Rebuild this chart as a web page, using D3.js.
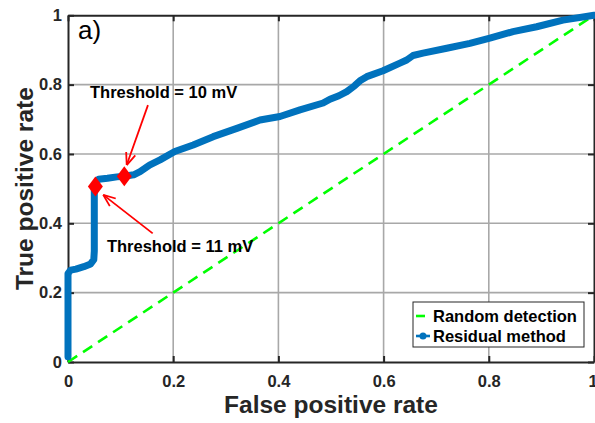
<!DOCTYPE html>
<html><head><meta charset="utf-8">
<script src="https://cdn.jsdelivr.net/npm/d3@7"></script>
<style>body{margin:0;background:#fff}svg{display:block}text{font-family:"Liberation Sans",Arial,Helvetica,sans-serif}</style>
</head><body>
<svg id="c" width="595" height="423"></svg>
<script>
// ---- data ----
const fpr = [0,0,0,0,0.005,0.015,0.03,0.043,0.049,0.05,0.05,0.05,0.052,0.058,0.075,0.093,0.107,0.125,0.137,0.155,0.175,0.203,0.238,0.276,0.321,0.365,0.403,0.441,0.485,0.498,0.515,0.53,0.545,0.555,0.568,0.599,0.631,0.644,0.656,0.675,0.72,0.764,0.802,0.846,0.891,0.941,1.0];
const tpr = [0.015,0.1,0.2,0.255,0.265,0.268,0.275,0.283,0.295,0.32,0.4,0.5,0.515,0.527,0.53,0.534,0.536,0.54,0.549,0.568,0.583,0.607,0.626,0.65,0.674,0.698,0.708,0.727,0.747,0.758,0.768,0.78,0.797,0.811,0.823,0.84,0.862,0.871,0.884,0.891,0.905,0.919,0.934,0.953,0.967,0.986,1.0];
const randomX = [0, 1];
const randomY = [0, 1];
const thresholdLabels = ["Threshold = 10 mV", "Threshold = 11 mV"];
const thresholdX = [0.107, 0.052];
const thresholdY = [0.536, 0.506];
const ticks = [0, 0.2, 0.4, 0.6, 0.8, 1];
const tickLabels = ["0", "0.2", "0.4", "0.6", "0.8", "1"];
const legendLabels = ["Random detection", "Residual method"];

// ---- layout ----
const svg = d3.select("#c");
const L = 68, R = 594, T = 15.3, B = 362;
const x = d3.scaleLinear().domain([0,1]).range([L,R]);
const y = d3.scaleLinear().domain([0,1]).range([B,T]);
const blue = "#0072bd", green = "#00ff00", red = "#ff0000", dark = "#262626";

// grid
const g = svg.append("g");
g.selectAll("line.gx").data(ticks.slice(1,-1)).enter().append("line")
  .attr("x1", d=>x(d)).attr("x2", d=>x(d)).attr("y1", T).attr("y2", B)
  .attr("stroke", "#a8a8a8").attr("stroke-width", 1.6);
g.selectAll("line.gy").data(ticks.slice(1,-1)).enter().append("line")
  .attr("y1", d=>y(d)).attr("y2", d=>y(d)).attr("x1", L).attr("x2", R)
  .attr("stroke", "#a8a8a8").attr("stroke-width", 1.6);

// axes
const fs = "16.5px";
const xAxis = d3.axisBottom(x).tickValues(ticks).tickFormat((d,i)=>tickLabels[i]).tickSizeInner(-6).tickSizeOuter(0).tickPadding(13);
const yAxis = d3.axisLeft(y).tickValues(ticks).tickFormat((d,i)=>tickLabels[i]).tickSizeInner(-6).tickSizeOuter(0).tickPadding(6);
const xTop = d3.axisTop(x).tickValues(ticks).tickFormat("").tickSizeInner(-6).tickSizeOuter(0);
const yRight = d3.axisRight(y).tickValues(ticks).tickFormat("").tickSizeInner(-6).tickSizeOuter(0);
function style(sel){
  sel.select(".domain").attr("stroke", dark).attr("stroke-width", 2);
  sel.selectAll(".tick line").attr("stroke", dark).attr("stroke-width", 2);
  sel.selectAll(".tick text").attr("fill", dark).style("font-size", fs).style("font-weight", "bold").style("font-family", '"Liberation Sans",Arial,sans-serif');
}
const xa = svg.append("g").attr("transform", `translate(0,${B})`).call(xAxis).call(style);
xa.selectAll(".tick text").filter((d,i)=>i===ticks.length-1).attr("dx", -1.5);
svg.append("g").attr("transform", `translate(${L},0)`).call(yAxis).call(style);
svg.append("g").attr("transform", `translate(0,${T})`).call(xTop).call(style);
svg.append("g").attr("transform", `translate(${R},0)`).call(yRight).call(style);

// random line
const line = d3.line().x(d=>x(d[0])).y(d=>y(d[1]));
svg.append("path").datum(d3.zip(randomX, randomY)).attr("d", line)
  .attr("fill","none").attr("stroke", green).attr("stroke-width", 2.6).attr("stroke-dasharray", "11,7");

// ROC curve
svg.append("path").datum(d3.zip(fpr, tpr)).attr("d", line)
  .attr("fill","none").attr("stroke", blue).attr("stroke-width", 7)
  .attr("stroke-linejoin","round").attr("stroke-linecap","round");

// diamonds
svg.selectAll("path.dia").data(d3.zip(thresholdX, thresholdY)).enter().append("path")
  .attr("d", d=>{const cx=x(d[0]), cy=y(d[1]); return `M${cx},${cy-10}L${cx+7.5},${cy}L${cx},${cy+10}L${cx-7.5},${cy}Z`;})
  .attr("fill", red);

// annotations (arrow tail/tip in data coords)
const arrows = [
  {from:[0.152,0.741], to:[0.1116,0.568]},
  {from:[0.161,0.371], to:[0.067,0.482]}
];
arrows.forEach(a=>{
  const x1=x(a.from[0]), y1=y(a.from[1]), x2=x(a.to[0]), y2=y(a.to[1]);
  svg.append("line").attr("x1",x1).attr("y1",y1).attr("x2",x2).attr("y2",y2)
    .attr("stroke", red).attr("stroke-width", 1.8);
  const ang = Math.atan2(y1-y2, x1-x2), len=13, sp=0.38;
  [ang-sp, ang+sp].forEach(t=>{
    svg.append("line").attr("x1",x2).attr("y1",y2)
      .attr("x2",x2+len*Math.cos(t)).attr("y2",y2+len*Math.sin(t))
      .attr("stroke", red).attr("stroke-width", 1.8);
  });
});
svg.append("text").attr("x", x(0.0418)).attr("y", y(0.762)).text(thresholdLabels[0])
  .style("font-size", fs).style("font-weight","bold").attr("fill","#000");
svg.append("text").attr("x", x(0.074)).attr("y", y(0.318)).text(thresholdLabels[1])
  .style("font-size", fs).style("font-weight","bold").attr("fill","#000");

// panel label
svg.append("text").attr("x", 78).attr("y", 39).text("a)").style("font-size","26px").attr("fill","#000");

// axis titles
svg.append("text").attr("x", (L+R)/2).attr("y", 413).attr("text-anchor","middle")
  .text("False positive rate").style("font-size","24.5px").style("font-weight","bold").attr("fill", dark);
svg.append("text").attr("transform", `translate(33,${(T+B)/2}) rotate(-90)`).attr("text-anchor","middle")
  .text("True positive rate").style("font-size","24.5px").style("font-weight","bold").attr("fill", dark);

// legend
const lg = svg.append("g");
lg.append("rect").attr("x", 413).attr("y", 302).attr("width", 171).attr("height", 45)
  .attr("fill","#fff").attr("stroke", dark).attr("stroke-width", 1);
lg.append("line").attr("x1", 416).attr("x2", 425).attr("y1", 316).attr("y2", 316).attr("stroke", green).attr("stroke-width", 2.6);
lg.append("line").attr("x1", 416).attr("x2", 430).attr("y1", 336).attr("y2", 336).attr("stroke", blue).attr("stroke-width", 2.6);
lg.append("circle").attr("cx", 423).attr("cy", 336).attr("r", 3.5).attr("fill", blue);
lg.selectAll("text").data(legendLabels).enter().append("text")
  .attr("x", 433).attr("y", (d,i)=>322+i*20).text(d=>d)
  .style("font-size", fs).style("font-weight","bold").attr("fill","#000");
</script>
</body></html>
